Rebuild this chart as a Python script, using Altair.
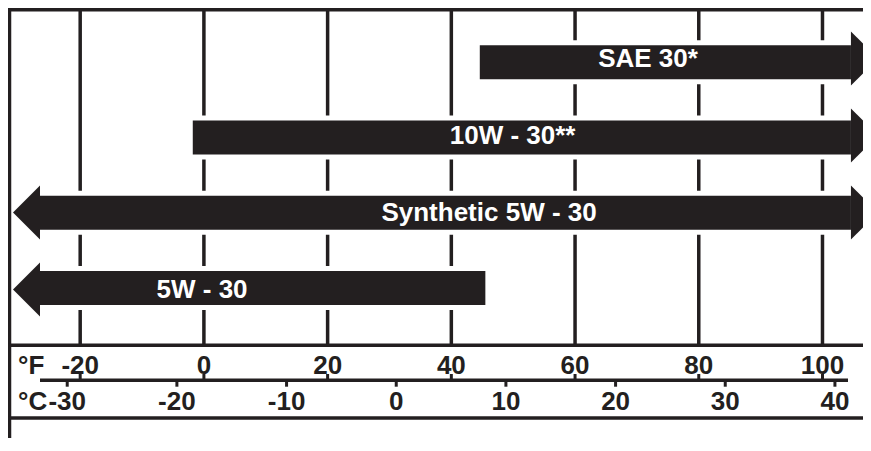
import altair as alt
import pandas as pd

# ---- data ----
oils = ["SAE 30*", "10W - 30**", "Synthetic 5W - 30", "5W - 30"]
rows = [0, 1, 2, 3]
low_f = [44.6, -1.8, -26.5, -26.5]      # start (°F); -26.5 = open end (arrow)
high_f = [104.6, 104.6, 104.6, 45.5]    # end (°F); 104.6 = open end (arrow)
arrow_left = [False, False, True, True]
arrow_right = [True, True, True, False]
label_f = [71.8, 49.9, 46.1, -0.3]      # label centre (°F)

f_ticks = [-20, 0, 20, 40, 60, 80, 100]
f_labels = ["-20", "0", "20", "40", "60", "80", "100"]
c_ticks = [-30, -20, -10, 0, 10, 20, 30, 40]
c_labels = ["-30", "-20", "-10", "0", "10", "20", "30", "40"]

INK = "#231f20"
FONT = "Liberation Sans"
W, H = 855, 430
F_DOMAIN = [-31.67, 106.55]
C_DOMAIN = [-35.40, 42.56]
ROW_DOMAIN = [-0.6558, 4.9286]

bars_df = pd.DataFrame({"oil": oils, "row": rows, "lo": low_f, "hi": high_f,
                        "lab": label_f, "al": arrow_left, "ar": arrow_right})
left_df = bars_df[bars_df["al"]]
right_df = bars_df[bars_df["ar"]]
f_df = pd.DataFrame({"f": f_ticks, "t": f_labels})
c_df = pd.DataFrame({"c": c_ticks, "t": c_labels})


def xF(field):
    return alt.X(field, type="quantitative",
                 scale=alt.Scale(domain=F_DOMAIN, nice=False, zero=False), axis=None)


def xC(field):
    return alt.X(field, type="quantitative",
                 scale=alt.Scale(domain=C_DOMAIN, nice=False, zero=False), axis=None)


yR = alt.Y("row:Q", scale=alt.Scale(domain=ROW_DOMAIN, reverse=True, nice=False, zero=False),
           axis=None)

one = pd.DataFrame({"k": [0]})

grid = alt.Chart(f_df).mark_rule(color=INK, strokeWidth=3.5).encode(
    x=xF("f"), y=alt.value(1.7), y2=alt.value(337.3))

halo = alt.Chart(bars_df).mark_bar(size=44, color="white").encode(
    x=xF("lo"), x2="hi", y=yR)

bars = alt.Chart(bars_df).mark_bar(size=34, color=INK).encode(
    x=xF("lo"), x2="hi", y=yR)

left_heads = alt.Chart(left_df).mark_point(
    shape="M0,-1L-1,0L0,1Z", size=2916, filled=True, color=INK, opacity=1, strokeWidth=0
).encode(x=xF("lo"), y=yR)

right_heads = alt.Chart(right_df).mark_point(
    shape="M0,-1L1,0L0,1Z", size=2916, filled=True, color=INK, opacity=1, strokeWidth=0
).encode(x=xF("hi"), y=yR)

bar_text = alt.Chart(bars_df).mark_text(
    color="white", font=FONT, fontSize=26, fontWeight="bold", dy=9,
    baseline="alphabetic", align="center"
).encode(x=xF("lab"), y=yR, text="oil:N")

top_border = alt.Chart(one).mark_rule(color=INK, strokeWidth=3.5).encode(
    x=alt.value(0), x2=alt.value(W), y=alt.value(1.7))
left_border = alt.Chart(one).mark_rule(color=INK, strokeWidth=3.5).encode(
    x=alt.value(1.5), y=alt.value(0), y2=alt.value(H))
line1 = alt.Chart(one).mark_rule(color=INK, strokeWidth=3.5).encode(
    x=alt.value(0), x2=alt.value(W), y=alt.value(337.3))
line2 = alt.Chart(one).mark_rule(color=INK, strokeWidth=3.5).encode(
    x=alt.value(0), x2=alt.value(W), y=alt.value(410))
axis_line = alt.Chart(one).mark_rule(color=INK, strokeWidth=3.5).encode(
    x=alt.value(32), x2=alt.value(840), y=alt.value(372.3))

f_tick_marks = alt.Chart(f_df).mark_rule(color=INK, strokeWidth=3).encode(
    x=xF("f"), y=alt.value(366), y2=alt.value(372))
f_text = alt.Chart(f_df).mark_text(
    color=INK, font=FONT, fontSize=26, fontWeight="bold", baseline="alphabetic", align="center"
).encode(x=xF("f"), y=alt.value(366), text="t:N")

c_tick_marks = alt.Chart(c_df).mark_rule(color=INK, strokeWidth=3).encode(
    x=xC("c"), y=alt.value(373), y2=alt.value(378.7))
c_text = alt.Chart(c_df).mark_text(
    color=INK, font=FONT, fontSize=26, fontWeight="bold", baseline="alphabetic", align="center"
).encode(x=xC("c"), y=alt.value(402), text="t:N")

unit_df = pd.DataFrame({"u": ["°F", "°C"], "yy": [366, 402]})
unit_text = alt.Chart(unit_df).mark_text(
    color=INK, font=FONT, fontSize=26, fontWeight="bold", baseline="alphabetic", align="left"
).encode(x=alt.value(10), y=alt.Y("yy:Q", scale=None), text="u:N")

chart = alt.layer(
    grid, halo, bars, left_heads, right_heads, bar_text,
    top_border, left_border, line1, line2, axis_line,
    f_tick_marks, f_text, c_tick_marks, c_text, unit_text
).resolve_scale(x="independent", y="independent").properties(
    width=W, height=H, autosize=alt.AutoSizeParams(type="none"), padding=0,
    background="white"
).configure_view(stroke=None)

chart.save("out.html", embed_options={"renderer": "svg", "actions": False})
